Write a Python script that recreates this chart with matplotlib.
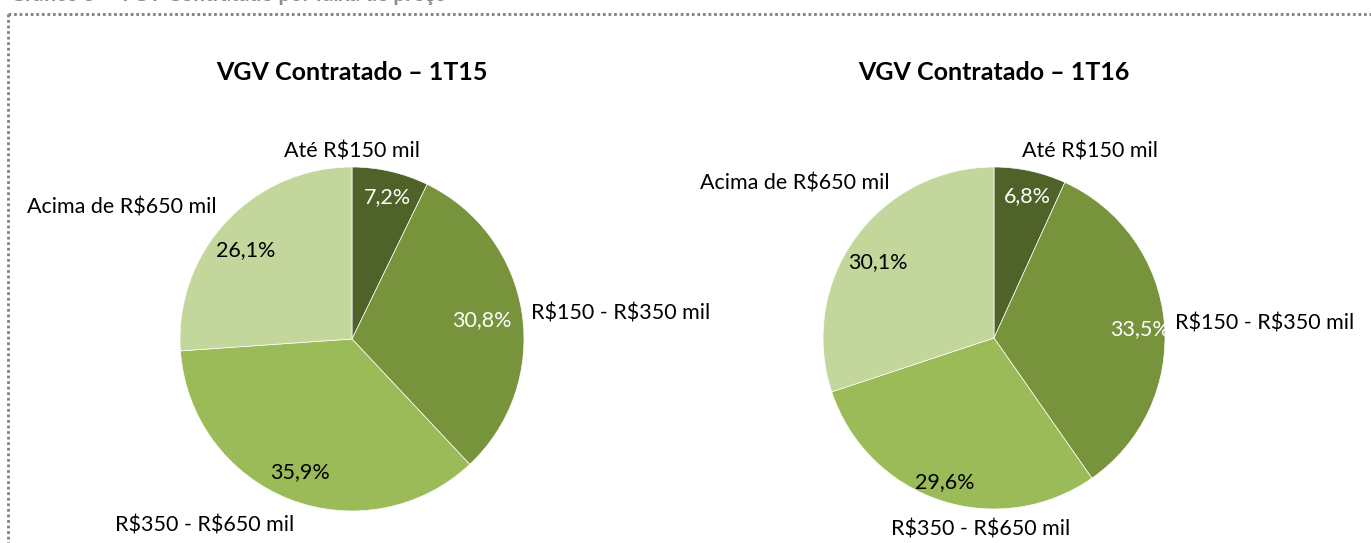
import matplotlib
matplotlib.use("Agg")
from matplotlib import pyplot as plt
from matplotlib.lines import Line2D

plt.rcParams['font.family'] = ['Lato', 'DejaVu Sans']
plt.rcParams['text.parse_math'] = False

categories = ["Até R$150 mil", "R$150 - R$350 mil", "R$350 - R$650 mil", "Acima de R$650 mil"]
titles = ["VGV Contratado – 1T15", "VGV Contratado – 1T16"]
values_1t15 = [7.2, 30.8, 35.9, 26.1]
values_1t16 = [6.8, 33.5, 29.6, 30.1]
colors = ["#4F6228", "#77933C", "#9BBB59", "#C3D69B"]
pct_colors = ["white", "white", "black", "black"]

W, H = 1371, 543
fig = plt.figure(figsize=(W / 100, H / 100), dpi=100)

# overlay in pixel coords for text + border
ov = fig.add_axes([0, 0, 1, 1])
ov.set_xlim(0, W)
ov.set_ylim(H, 0)
ov.axis("off")

# dotted frame
ov.add_line(Line2D([8, W], [14, 14], color="#808080", lw=2, ls=(0, (1, 1))))
ov.add_line(Line2D([8, 8], [14, H], color="#808080", lw=2, ls=(0, (1, 1))))
# caption, mostly cut off at the top like in the source
ov.text(10, 1, "Gráfico 5 – VGV Contratado por faixa de preço", fontsize=15, fontweight="bold",
        color="#8c8c8c", va="baseline", ha="left")

pies = [
    dict(vals=values_1t15, cx=352, cy=339, r=172, title=titles[0],
         lab=[(352, 151), (621, 313), (205, 525), (122, 208)],
         pct=[(387, 197), (482, 320), (300, 472), (246, 250)]),
    dict(vals=values_1t16, cx=994, cy=338, r=171, title=titles[1],
         lab=[(1090, 152), (1265, 323), (981, 530), (795, 183)],
         pct=[(1027, 196), (1140, 329), (945, 482), (878, 262)]),
]

for p in pies:
    ax = fig.add_axes([(p["cx"] - p["r"]) / W, (H - p["cy"] - p["r"]) / H,
                       2 * p["r"] / W, 2 * p["r"] / H])
    ax.pie(p["vals"], colors=colors, startangle=90, counterclock=False,
           wedgeprops=dict(edgecolor="white", linewidth=0.5))
    ax.set_xlim(-1, 1)
    ax.set_ylim(-1, 1)
    ax.set_aspect("equal")
    ax.axis("off")
    ov.text(p["cx"], 72, p["title"], ha="center", va="center", fontsize=18, fontweight="bold")
    for i, name in enumerate(categories):
        ov.text(p["lab"][i][0], p["lab"][i][1], name, ha="center", va="center", fontsize=15.5)
        s = f"{p['vals'][i]:.1f}".replace(".", ",") + "%"
        ov.text(p["pct"][i][0], p["pct"][i][1], s, ha="center", va="center", fontsize=15.5,
                color=pct_colors[i], zorder=5)

ov.set_zorder(3)
fig.savefig("out.png", dpi=100)
